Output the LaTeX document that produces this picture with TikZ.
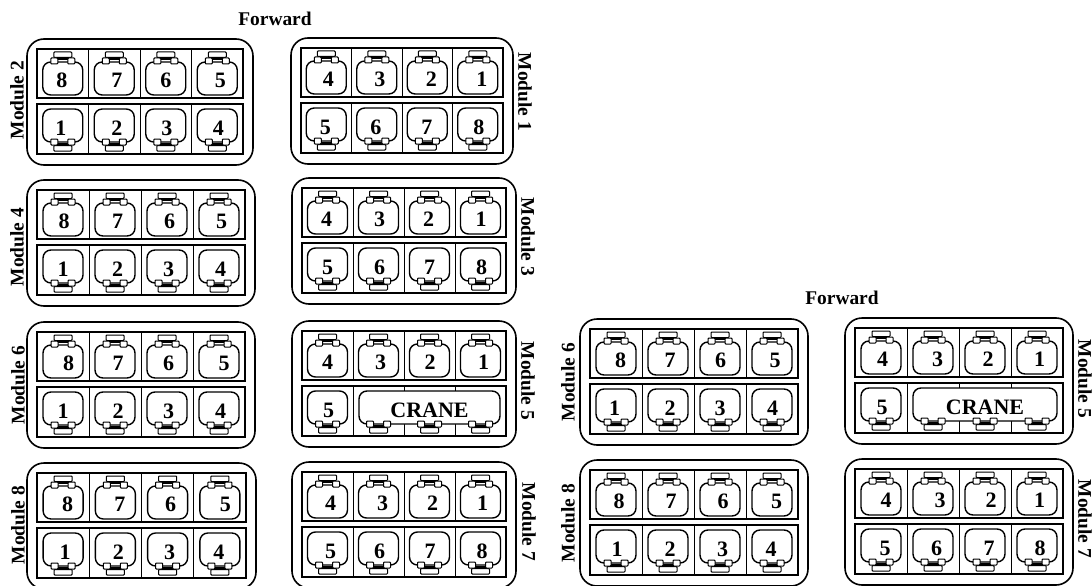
\documentclass[tikz,border=0pt]{standalone}
\usepackage{fontspec}
\setmainfont{Liberation Serif}
\tikzset{
  outerbox/.style={draw=black,line width=1.6pt,rounded corners=17pt},
  rowbox/.style={draw=black,line width=1.4pt},
  divider/.style={draw=black,line width=1pt},
  seatbody/.style={draw=black,fill=white,line width=1.4pt,rounded corners=8pt},
  lug/.style={draw=black,fill=white,line width=1pt,rounded corners=0.8pt},
  digit/.style={font=\bfseries\fontsize{22}{22}\selectfont,inner sep=0pt},
  craneword/.style={font=\bfseries\fontsize{22}{22}\selectfont,inner sep=0pt},
  modlabel/.style={font=\bfseries\fontsize{19.4}{19.4}\selectfont,inner sep=0pt},
  fwdlabel/.style={font=\bfseries\fontsize{19.4}{19.4}\selectfont,inner sep=0pt}
}
% connector drawn for a seat that faces the top of its cell
\newcommand{\seatconn}{%
  \draw[lug] (-9,3) rectangle (9,8.5);
  \draw[black,line width=2.2pt] (-6,10) -- (6,10);
  \draw[lug] (-12,9) rectangle (-5,15);
  \draw[lug] (5,9) rectangle (12,15);
}
% #1 name, #2 cx, #3 row top, #4 digit, #5 digit offset
\newcommand{\seatT}[5]{%
  \begin{scope}[shift={(#2,#3)}]
    \draw[seatbody] (-20,13) rectangle (20,46);
    \seatconn
    \node[digit] (#1) at (#5,31) {#4};
  \end{scope}}
\newcommand{\seatB}[5]{%
  \begin{scope}[shift={(#2,#3)}]
    \draw[seatbody] (-20,5) rectangle (20,38);
    \begin{scope}[shift={(0,50)},yscale=-1]\seatconn\end{scope}
    \node[digit] (#1) at (#5,24) {#4};
  \end{scope}}
% frame and upper row: #1 id, #2 x, #3 y, #4 w, #5 top digits/offsets
\newcommand{\modframe}[5]{%
  \pgfmathsetmacro{\cw}{(#4-20)/4}
  \draw[outerbox] (#2,#3) rectangle ({#2+#4},{#3+126});
  \begin{scope}[shift={(#2+10,#3)}]
    \draw[rowbox] (0,10) rectangle ({4*\cw},59);
    \draw[rowbox] (0,65) rectangle ({4*\cw},115);
    \foreach \i in {1,2,3}{
      \draw[divider] ({\i*\cw},10) -- ({\i*\cw},59);
      \draw[divider] ({\i*\cw},65) -- ({\i*\cw},115);
    }
    \foreach \d/\dx [count=\i from 0] in {#5}{
      \pgfmathsetmacro{\cc}{(\i+0.5)*\cw}
      \seatT{#1-t\d}{\cc}{10}{\d}{\dx}
    }
  \end{scope}}
% #1 id, #2 x, #3 y, #4 w, #5 top digits, #6 bottom digits
\newcommand{\module}[6]{%
  \modframe{#1}{#2}{#3}{#4}{#5}
  \begin{scope}[shift={(#2+10,#3)}]
    \foreach \d/\dx [count=\i from 0] in {#6}{
      \pgfmathsetmacro{\cc}{(\i+0.5)*\cw}
      \seatB{#1-b\d}{\cc}{65}{\d}{\dx}
    }
  \end{scope}}
\newcommand{\cranemodule}[5]{%
  \modframe{#1}{#2}{#3}{#4}{#5}
  \begin{scope}[shift={(#2+10,#3)}]
    \pgfmathsetmacro{\cc}{0.5*\cw}
    \seatB{#1-b5}{\cc}{65}{5}{1}
    \draw[seatbody] ({\cw+6},70) rectangle ({4*\cw-6},103);
    \node[craneword] (#1-crane) at ({2.5*\cw},89) {CRANE};
    \foreach \i in {1.5,2.5,3.5}{
      \pgfmathsetmacro{\cc}{\i*\cw}
      \begin{scope}[shift={(\cc,115)},yscale=-1]\seatconn\end{scope}
    }
  \end{scope}}
\begin{document}
\begin{tikzpicture}[x=1pt,y=-1pt]
  \clip (0,0) rectangle (1092,586);
  \node[fwdlabel] (fwdA) at (275,19) {Forward};
  \node[fwdlabel] (fwdB) at (842,298) {Forward};

  \module{m2}{27}{39}{226}{8/-1,7/2.5,6/0,5/3}{1/-2,2/2.5,3/1,4/1}
  \module{m1}{291}{38}{222}{4/2,3/3,2/4,1/4}{5/-1,6/-1,7/-0.5,8/1}
  \module{m4}{27}{180}{228}{8/1,7/2.5,6/2.5,5/2.5}{1/0,2/2.5,3/1.5,4/1.5}
  \module{m3}{292}{178}{224}{4/-1,3/1,2/-1,1/0.5}{5/0,6/1,7/0,8/1}
  \module{m6}{27}{322}{228}{8/5.5,7/3,6/1.5,5/5}{1/0,2/3,3/1.5,4/1.5}
  \cranemodule{m5}{292}{321}{224}{4/0,3/2,2/0.5,1/3}
  \module{m8}{27}{463}{229}{8/4.5,7/4.5,6/3,5/5.5}{1/2,2/3,3/2,4/-1}
  \module{m7}{292}{462}{224}{4/3,3/4,2/3,1/2}{5/3,6/1,7/0.5,8/1.5}

  \module{r6}{580}{319}{228}{8/4.5,7/2,6/0.5,5/3}{1/-1.5,2/2,3/0,4/0.5}
  \cranemodule{r5}{845}{318}{228}{4/1.5,3/4.5,2/3,1/2.5}
  \module{r8}{580}{460}{228}{8/3,7/3,6/3,5/4.5}{1/1,2/2,3/2.5,4/-1}
  \module{r7}{845}{459}{228}{4/5,3/7,2/6,1/2.5}{5/4,6/3.5,7/4,8/3}

  \node[modlabel,rotate=90] (l2) at (17,100) {Module 2};
  \node[modlabel,rotate=90] (l4) at (17,247) {Module 4};
  \node[modlabel,rotate=90] (l6) at (18,385) {Module 6};
  \node[modlabel,rotate=90] (l8) at (18,525) {Module 8};
  \node[modlabel,rotate=-90] (l1) at (525,92) {Module 1};
  \node[modlabel,rotate=-90] (l3) at (528,237) {Module 3};
  \node[modlabel,rotate=-90] (l5) at (528,381) {Module 5};
  \node[modlabel,rotate=-90] (l7) at (529,522) {Module 7};
  \node[modlabel,rotate=90] (rl6) at (568,382) {Module 6};
  \node[modlabel,rotate=90] (rl8) at (568,523) {Module 8};
  \node[modlabel,rotate=-90] (rl5) at (1085,379) {Module 5};
  \node[modlabel,rotate=-90] (rl7) at (1085,519) {Module 7};
\end{tikzpicture}
\end{document}
